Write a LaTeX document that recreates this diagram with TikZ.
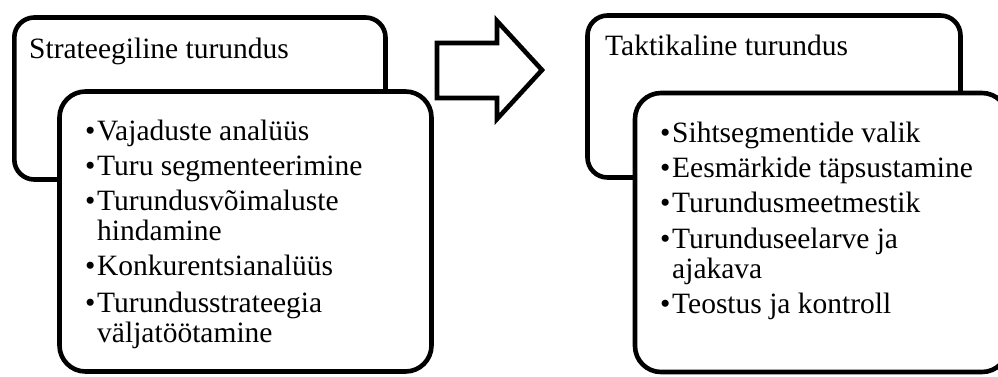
\documentclass[tikz,border=0pt]{standalone}
\usepackage{fontspec}
\setmainfont{Liberation Serif}
\newcommand\itm[1]{\makebox[12pt][l]{•}#1}
\tikzset{
  backbox/.style={line width=4.6pt, rounded corners=20pt},
  frontbox/.style={line width=4.6pt, rounded corners=26pt, fill=white},
  txt/.style={anchor=base west, inner sep=0pt, align=left, font=\fontsize{29.5}{30}\selectfont},
  bigarrow/.style={line width=4.6pt, miter limit=10, fill=white}
}
\begin{document}
\begin{tikzpicture}[x=1pt,y=-1pt]
\useasboundingbox (0,0) rectangle (998,376);
\clip (0,0) rectangle (998,376);
% left group
\draw[backbox] (14.3,17.5) rectangle (385.5,179.5);
\node[txt] (lt) at (29,58) {Strateegiline turundus};
\draw[frontbox] (59.5,91.5) rectangle (431.5,371.5);
\node[txt] (l1) at (85,140) {\itm{Vajaduste analüüs}};
\node[txt] (l2) at (85,175) {\itm{Turu segmenteerimine}};
\node[txt] (l3) at (85,240) {\itm{Turundusvõimaluste}\\\hspace*{12pt}hindamine};
\node[txt] (l4) at (85,275) {\itm{Konkurentsianalüüs}};
\node[txt] (l5) at (85,342) {\itm{Turundusstrateegia}\\\hspace*{12pt}väljatöötamine};
% arrow
\draw[bigarrow] (437,43) -- (497,43) -- (497,21) -- (542,70) -- (497,119) -- (497,98) -- (437,98) -- cycle;
% right group
\draw[backbox] (587.5,15.5) rectangle (960.5,177.5);
\node[txt] (rt) at (605,55) {Taktikaline turundus};
\draw[frontbox] (635,93) rectangle (1008,372);
\node[txt] (r1) at (660,142) {\itm{Sihtsegmentide valik}};
\node[txt] (r2) at (660,177) {\itm{Eesmärkide täpsustamine}};
\node[txt] (r3) at (660,212) {\itm{Turundusmeetmestik}};
\node[txt] (r4) at (660,278) {\itm{Turunduseelarve ja}\\\hspace*{12pt}ajakava};
\node[txt] (r5) at (660,313) {\itm{Teostus ja kontroll}};
\end{tikzpicture}
\end{document}
